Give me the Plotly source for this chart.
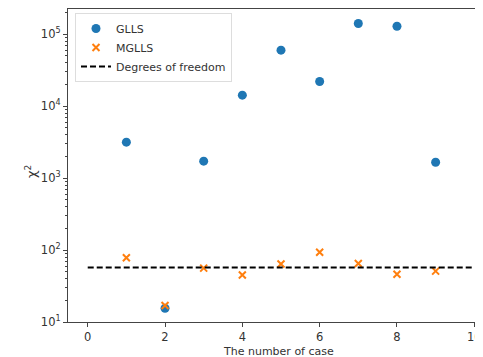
import plotly.graph_objects as go

cases = [1, 2, 3, 4, 5, 6, 7, 8, 9]
glls = [3160, 15.5, 1720, 14200, 60000, 22000, 141000, 129000, 1660]
mglls = [78, 17, 56, 45, 64, 93, 65, 46, 51]
dof_x = [0, 10]
dof_y = [57, 57]

ytickvals = [10, 100, 1000, 10000, 100000]
yticktext = ["10<sup>1</sup>", "10<sup>2</sup>", "10<sup>3</sup>", "10<sup>4</sup>", "10<sup>5</sup>"]
xtickvals = [0, 2, 4, 6, 8, 10]

minor_vals = [m * 10 ** e for e in range(1, 6) for m in range(2, 10)]

font = "DejaVu Sans"
axcol = "#444444"

# page has an 8px body margin; figure placed at (8, 8).
# The plot area extends a little past the right edge of the window (as in the reference).
OFF = 8
PLOT_RIGHT = 494          # page x of right edge of plot area (off-screen)
R = 12
W = PLOT_RIGHT - OFF + R
H = 357 - OFF
L, T, B = 68 - OFF, 9 - OFF, 35
pw, ph = W - L - R, H - T - B


def px(xp):
    return (xp - OFF - L) / pw


def py(yp):
    return (H - B - (yp - OFF)) / ph


fig = go.Figure()
fig.add_trace(go.Scatter(x=cases, y=glls, mode="markers", name="GLLS",
                         marker=dict(symbol="circle", size=9, color="#1f77b4")))
fig.add_trace(go.Scatter(x=cases, y=mglls, mode="markers", name="MGLLS",
                         marker=dict(symbol="x-thin", size=7, color="#ff7f0e",
                                     line=dict(width=2, color="#ff7f0e"))))
fig.add_trace(go.Scatter(x=dof_x, y=dof_y, mode="lines", name="Degrees of freedom",
                         line=dict(color="black", width=2, dash="6px,3px")))

fig.update_layout(
    width=W, height=H,
    margin=dict(l=L, r=R, t=T, b=B, autoexpand=False),
    paper_bgcolor="white", plot_bgcolor="white",
    font=dict(family=font, size=11, color="#333333"),
    showlegend=True,
    legend=dict(x=px(75), y=py(13), xanchor="left", yanchor="top",
                bgcolor="white", bordercolor="#dddddd", borderwidth=1,
                font=dict(family=font, size=11, color="#333333"),
                tracegroupgap=0, itemwidth=30),
    annotations=[
        dict(text="The number of case", x=px(278), y=py(351), xref="paper", yref="paper",
             xanchor="center", yanchor="middle",
             showarrow=False, font=dict(size=11, color="#333333")),
        dict(text="χ<sup>2</sup>", x=px(31), y=py(172), xref="paper", yref="paper",
             xanchor="center", yanchor="middle",
             showarrow=False, textangle=-90, font=dict(size=13, color="#333333")),
    ],
)

fig.update_xaxes(range=[-0.51, 10.51], tickmode="array", tickvals=xtickvals,
                 automargin=False,
                 showgrid=False, zeroline=False, showline=True, linecolor=axcol,
                 linewidth=1.2, mirror=True, ticks="outside", ticklen=4,
                 tickcolor=axcol, tickfont=dict(size=11.5))
fig.update_yaxes(type="log", range=[1, 5.35], tickmode="array", tickvals=ytickvals,
                 automargin=False,
                 ticktext=yticktext, showgrid=False, zeroline=False, showline=True,
                 linecolor=axcol, linewidth=1.2, mirror=False, ticks="outside",
                 ticklen=4, tickcolor=axcol, tickfont=dict(size=11.5),
                 minor=dict(tickmode="array", tickvals=minor_vals, ticks="outside",
                            ticklen=2, tickcolor=axcol, showgrid=False))

fig.write_html("out.html",
               post_script="document.documentElement.style.overflow='hidden';"
                           "document.body.style.overflow='hidden';")
